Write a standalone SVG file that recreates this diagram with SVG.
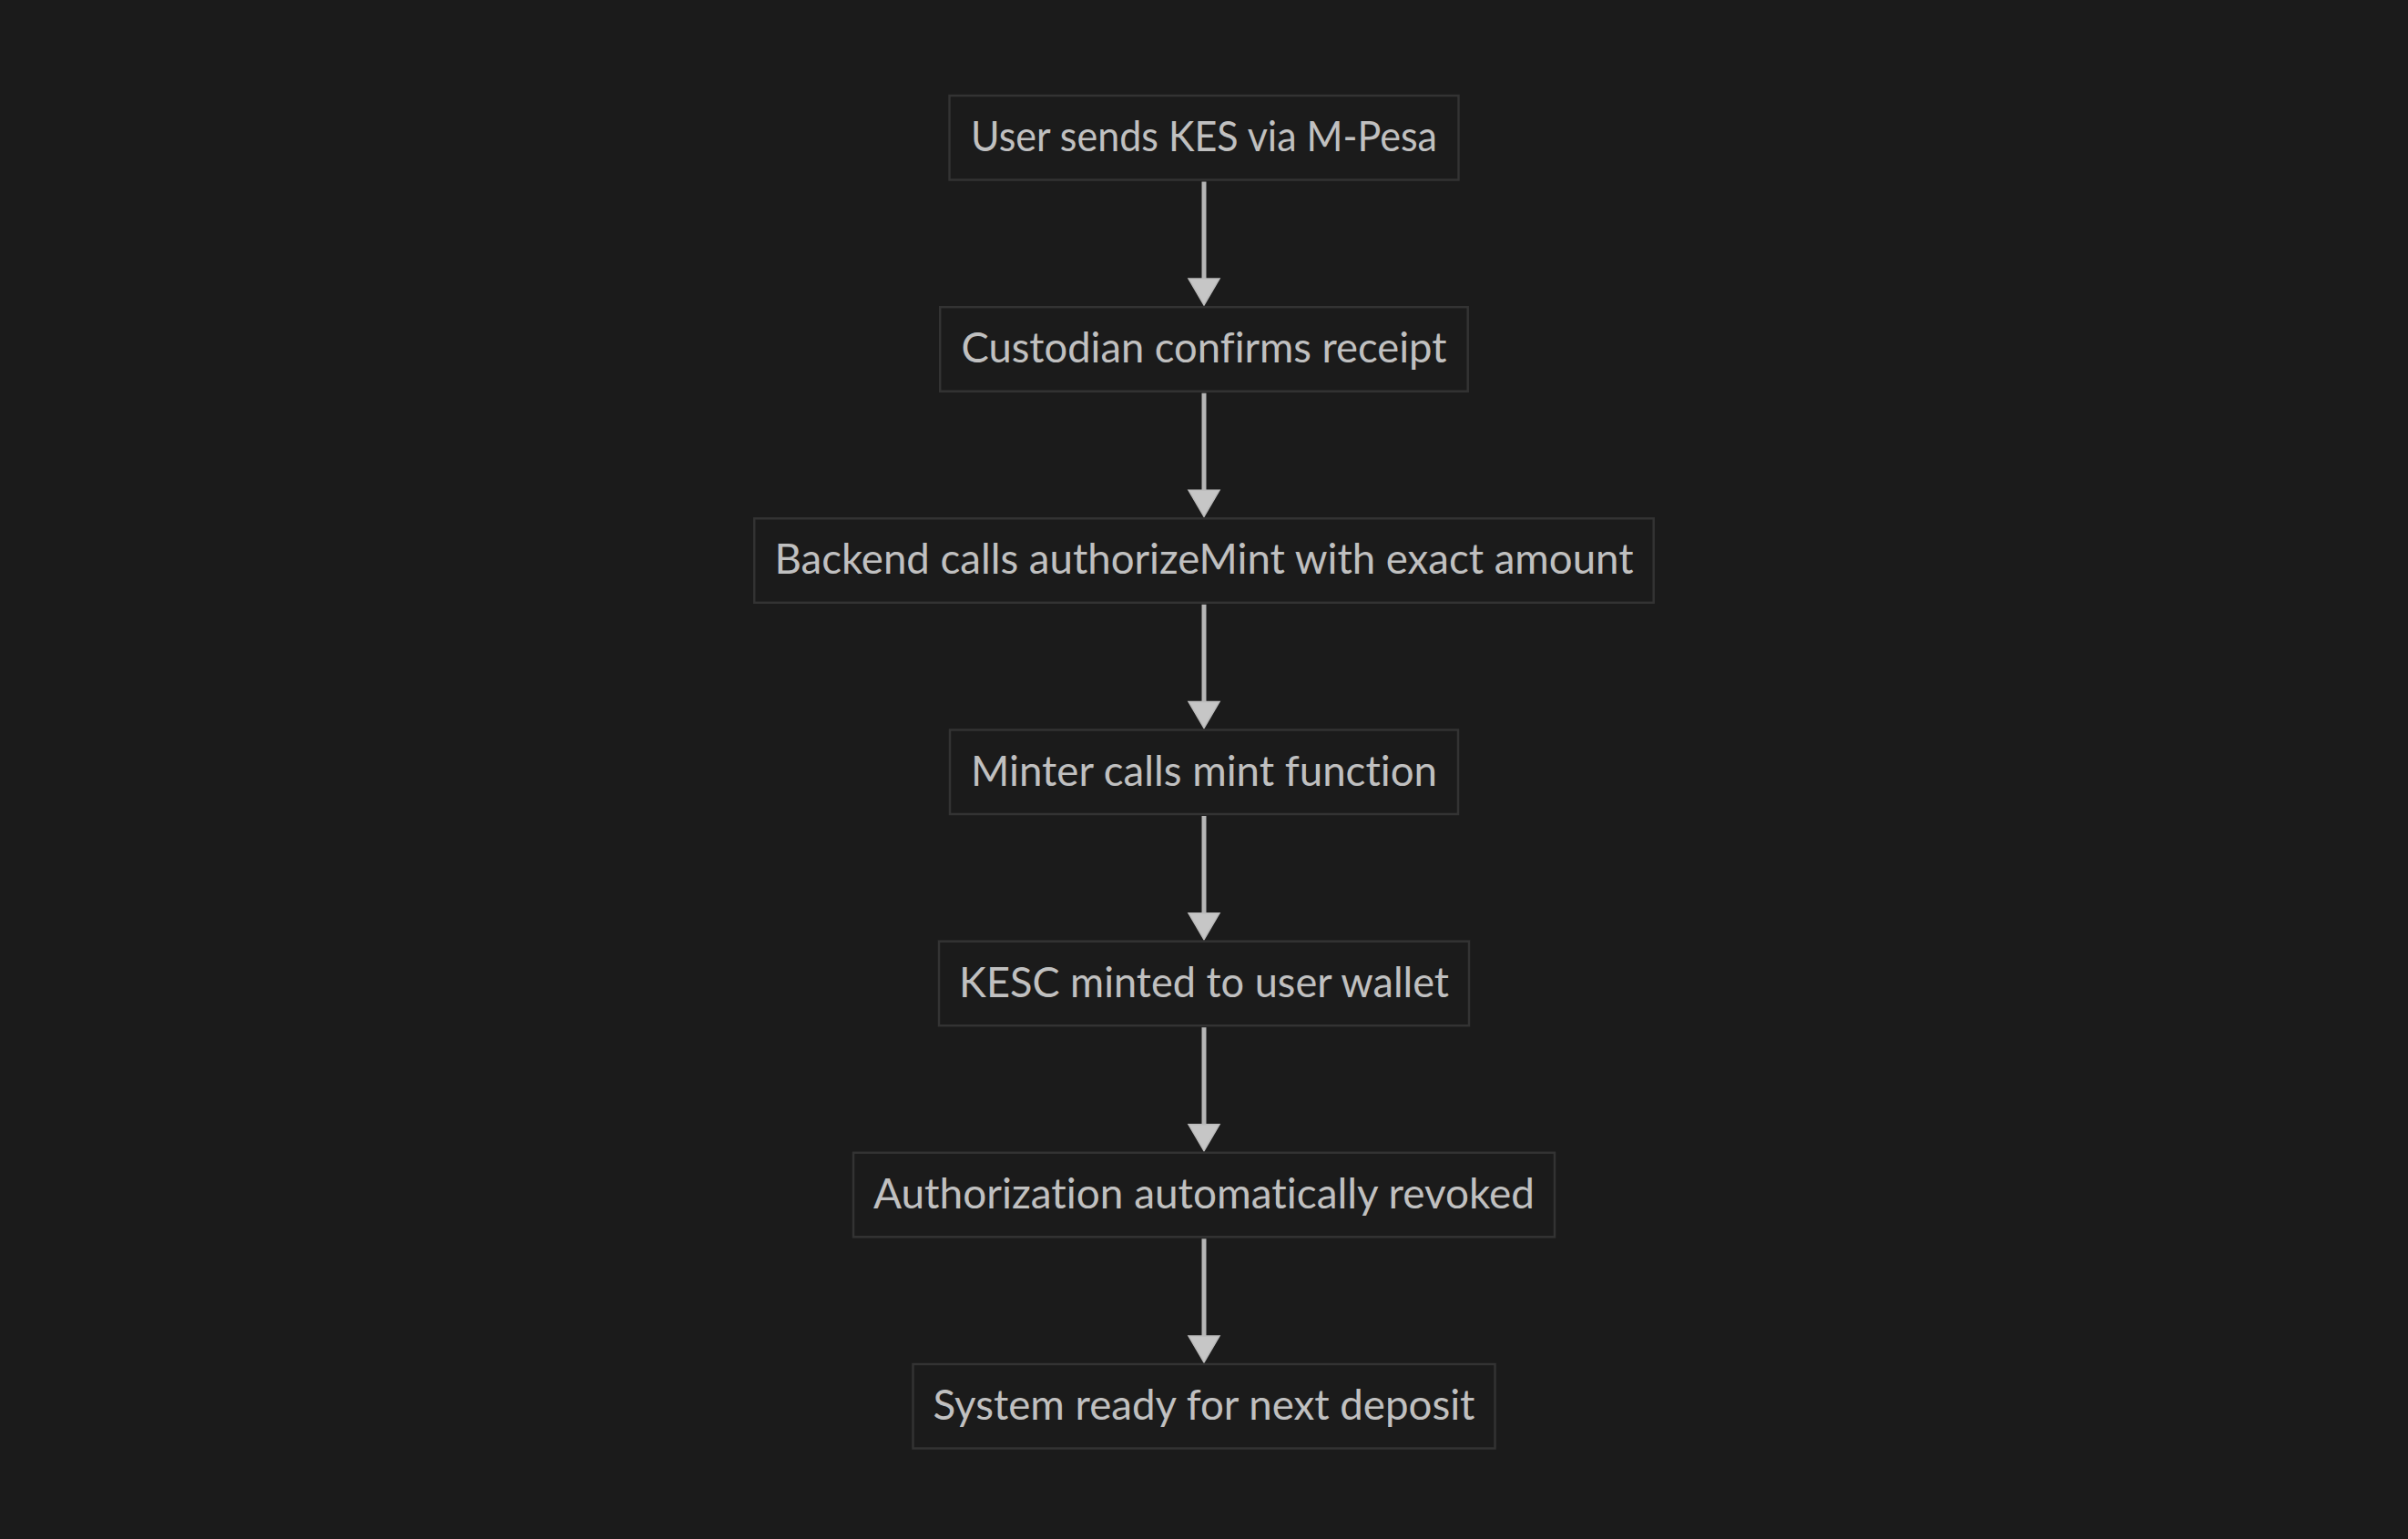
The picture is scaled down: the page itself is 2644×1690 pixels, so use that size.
<svg xmlns="http://www.w3.org/2000/svg" width="2644" height="1690" viewBox="0 0 2644 1690">
<style>
.node rect{fill:#1b1b1b;stroke:#333333;stroke-width:2.5}
.node text{font-family:Lato,"Open Sans","Liberation Sans",sans-serif;font-size:46px;fill:#c0c0c0;text-anchor:middle;font-variant-ligatures:none}
.edge{stroke:#b5b5b5;stroke-width:5;fill:none}
.head{fill:#c6c6c6;stroke:#bbbbbb;stroke-width:1.5}
</style>
<rect x="0" y="0" width="2644" height="1690" fill="#1b1b1b"/>
<g id="connectors">
<line class="edge" x1="1322" y1="199.5" x2="1322" y2="318"/><polygon class="head" points="1305,306 1339,306 1322,335"/>
<line class="edge" x1="1322" y1="431.7" x2="1322" y2="550"/><polygon class="head" points="1305,538.3 1339,538.3 1322,567.3"/>
<line class="edge" x1="1322" y1="663.8" x2="1322" y2="782"/><polygon class="head" points="1305,770.5 1339,770.5 1322,799.5"/>
<line class="edge" x1="1322" y1="896" x2="1322" y2="1014"/><polygon class="head" points="1305,1002.7 1339,1002.7 1322,1031.7"/>
<line class="edge" x1="1322" y1="1128.2" x2="1322" y2="1246"/><polygon class="head" points="1305,1234.8 1339,1234.8 1322,1263.8"/>
<line class="edge" x1="1322" y1="1360.3" x2="1322" y2="1478"/><polygon class="head" points="1305,1467 1339,1467 1322,1496"/>
</g>
<g id="n1" class="node"><rect x="1042.5" y="105" width="559" height="92.5"/><text x="1322" y="166" textLength="512" lengthAdjust="spacingAndGlyphs">User sends KES via M-Pesa</text></g>
<g id="n2" class="node"><rect x="1032.2" y="337.2" width="579.5" height="92.5"/><text x="1322" y="398.2" textLength="533" lengthAdjust="spacingAndGlyphs">Custodian confirms receipt</text></g>
<g id="n3" class="node"><rect x="828.2" y="569.3" width="987.5" height="92.5"/><text x="1322" y="630.3" textLength="943" lengthAdjust="spacingAndGlyphs">Backend calls authorizeMint with exact amount</text></g>
<g id="n4" class="node"><rect x="1043" y="801.5" width="558" height="92.5"/><text x="1322" y="862.5" textLength="512" lengthAdjust="spacingAndGlyphs">Minter calls mint function</text></g>
<g id="n5" class="node"><rect x="1031" y="1033.7" width="582" height="92.5"/><text x="1322" y="1094.7" textLength="538" lengthAdjust="spacingAndGlyphs">KESC minted to user wallet</text></g>
<g id="n6" class="node"><rect x="937" y="1265.8" width="770" height="92.5"/><text x="1322" y="1326.8" textLength="726" lengthAdjust="spacingAndGlyphs">Authorization automatically revoked</text></g>
<g id="n7" class="node"><rect x="1002.5" y="1498" width="639" height="92.5"/><text x="1322" y="1559" textLength="595" lengthAdjust="spacingAndGlyphs">System ready for next deposit</text></g>
</svg>
